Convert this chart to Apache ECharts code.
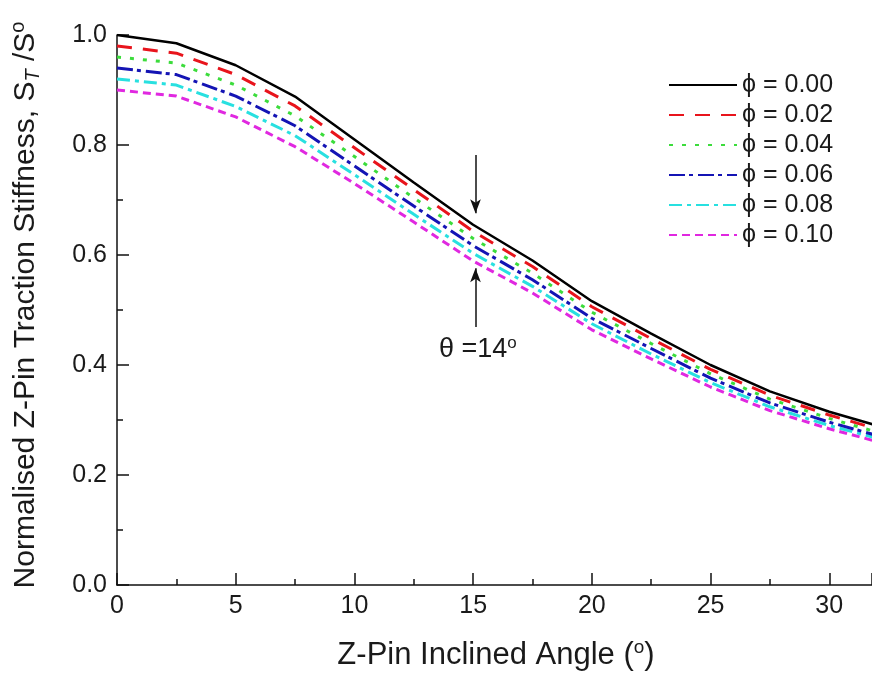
<!DOCTYPE html>
<html>
<head>
<meta charset="utf-8">
<script src="https://cdn.jsdelivr.net/npm/echarts@6/dist/echarts.min.js"></script>
<style>
html,body{margin:0;padding:0;background:#fff;}
#chart{width:872px;height:673px;}
</style>
</head>
<body>
<div id="chart"></div>
<script>
// ---- data ----
const angles = [0, 2.5, 5, 7.5, 10, 12.5, 15, 17.5, 20, 22.5, 25, 27.5, 30, 32];
const seriesNames = ['\u03d5 = 0.00', '\u03d5 = 0.02', '\u03d5 = 0.04', '\u03d5 = 0.06', '\u03d5 = 0.08', '\u03d5 = 0.10'];
const phi000 = [1.000, 0.985, 0.945, 0.888, 0.810, 0.732, 0.655, 0.590, 0.516, 0.457, 0.400, 0.352, 0.315, 0.290];
const phi002 = [0.980, 0.967, 0.928, 0.871, 0.795, 0.719, 0.643, 0.579, 0.506, 0.448, 0.392, 0.345, 0.309, 0.284];
const phi004 = [0.960, 0.949, 0.909, 0.853, 0.779, 0.704, 0.630, 0.567, 0.496, 0.439, 0.384, 0.338, 0.303, 0.278];
const phi006 = [0.940, 0.928, 0.889, 0.835, 0.762, 0.689, 0.617, 0.555, 0.485, 0.430, 0.376, 0.331, 0.296, 0.272];
const phi008 = [0.920, 0.909, 0.870, 0.817, 0.746, 0.674, 0.603, 0.543, 0.475, 0.420, 0.368, 0.324, 0.290, 0.267];
const phi010 = [0.900, 0.889, 0.851, 0.797, 0.730, 0.660, 0.589, 0.531, 0.464, 0.411, 0.360, 0.317, 0.284, 0.261];
const yTicks = [0, 0.2, 0.4, 0.6, 0.8, 1.0];
const xTicks = [0, 5, 10, 15, 20, 25, 30];
// annotation (theta = 14 deg arrows), in data units
const arrowX = 15.1;
const upperArrow = [0.782, 0.676];
const lowerArrow = [0.469, 0.576];

// ---- styles ----
const FONT = "'Liberation Sans', Arial, sans-serif";
const colors = ['#000000', '#e8141c', '#3cdc3c', '#1414b4', '#28e0e0', '#e028e0'];
const dashes = ['solid', [15, 11], [4, 9], [16, 4, 4, 5], [13, 5, 4, 5], [8, 5]];
const widths = [2.5, 3, 3, 3, 3, 3];
const allValues = [phi000, phi002, phi004, phi006, phi008, phi010];

const series = allValues.map((vals, i) => {
  const s = {
    name: seriesNames[i],
    type: 'line',
    data: angles.map((a, k) => [a, vals[k]]),
    symbol: 'none',
    clip: true,
    z: 10 - i,
    lineStyle: { color: colors[i], width: widths[i], type: dashes[i] },
    itemStyle: { color: colors[i] }
  };
  if (i === 0) {
    s.markLine = {
      silent: true,
      symbol: ['none', 'arrow'],
      symbolSize: [8, 14],
      label: { show: false },
      lineStyle: { color: '#111', width: 1.5, type: 'solid' },
      data: [
        [{ coord: [arrowX, upperArrow[0]] }, { coord: [arrowX, upperArrow[1]] }],
        [{ coord: [arrowX, lowerArrow[0]] }, { coord: [arrowX, lowerArrow[1]] }]
      ]
    };
  }
  return s;
});

const chart = echarts.init(document.getElementById('chart'), null, { renderer: 'canvas' });
chart.setOption({
  animation: false,
  backgroundColor: '#ffffff',
  grid: { left: 117, right: 0, top: 35, bottom: 88, containLabel: false },
  legend: {
    left: 668, top: 72, orient: 'vertical', padding: 0,
    itemWidth: 68, itemHeight: 14, itemGap: 4,
    itemStyle: { opacity: 0, borderWidth: 0 },
    lineStyle: { opacity: 1 },
    textStyle: { fontFamily: FONT, fontSize: 25, color: '#1a1a1a', lineHeight: 26 },
    data: seriesNames
  },
  xAxis: {
    type: 'value', min: 0, max: 31.8, interval: 5,
    axisLine: { lineStyle: { color: '#111', width: 1.5 } },
    axisTick: { inside: true, length: 12, lineStyle: { color: '#111', width: 1.5 } },
    minorTick: { show: true, splitNumber: 2, length: 6, lineStyle: { color: '#111', width: 1.5 } },
    splitLine: { show: false },
    axisLabel: { fontFamily: FONT, fontSize: 25, color: '#1a1a1a', margin: 9, showMaxLabel: false,
      formatter: v => (xTicks.indexOf(v) >= 0 ? String(v) : '') }
  },
  yAxis: {
    type: 'value', min: 0, max: 1.0, interval: 0.2,
    axisLine: { show: true, lineStyle: { color: '#111', width: 1.5 } },
    axisTick: { show: true, inside: true, length: 12, lineStyle: { color: '#111', width: 1.5 } },
    minorTick: { show: true, splitNumber: 2, length: 6, lineStyle: { color: '#111', width: 1.5 } },
    splitLine: { show: false },
    axisLabel: { fontFamily: FONT, fontSize: 25, color: '#1a1a1a', margin: 10,
      formatter: v => { const t = yTicks.find(y => Math.abs(y - v) < 1e-6); return t === undefined ? '' : t.toFixed(1); } }
  },
  graphic: [
    {
      type: 'text', x: 496, y: 655,
      style: {
        text: '{a|Z-Pin Inclined Angle (}{s|o}{a|)}',
        textAlign: 'center', textVerticalAlign: 'middle',
        fill: '#1a1a1a', font: '31px ' + FONT,
        rich: {
          a: { fontSize: 31, fontFamily: FONT, lineHeight: 34, fill: '#1a1a1a', verticalAlign: 'middle' },
          s: { fontSize: 19, fontFamily: FONT, lineHeight: 19, fill: '#1a1a1a', verticalAlign: 'top' }
        }
      }
    },
    {
      type: 'text', x: 26, y: 305, rotation: Math.PI / 2,
      style: {
        text: '{a|Normalised Z-Pin Traction Stiffness, S}{t|T}{a| /S}{s|o}',
        textAlign: 'center', textVerticalAlign: 'middle',
        fill: '#1a1a1a', font: '30px ' + FONT,
        rich: {
          a: { fontSize: 30, fontFamily: FONT, lineHeight: 35, fill: '#1a1a1a', verticalAlign: 'middle' },
          t: { fontSize: 20, fontFamily: FONT, fontStyle: 'italic', lineHeight: 20, fill: '#1a1a1a', verticalAlign: 'bottom' },
          s: { fontSize: 20, fontFamily: FONT, lineHeight: 20, fill: '#1a1a1a', verticalAlign: 'top' }
        }
      }
    },
    {
      type: 'text', x: 439, y: 350,
      style: {
        text: '{a|\u03b8 =14}{s|o}',
        textAlign: 'left', textVerticalAlign: 'middle',
        fill: '#1a1a1a', font: '27px ' + FONT,
        rich: {
          a: { fontSize: 27, fontFamily: FONT, lineHeight: 30, fill: '#1a1a1a', verticalAlign: 'middle' },
          s: { fontSize: 17, fontFamily: FONT, lineHeight: 17, fill: '#1a1a1a', verticalAlign: 'top' }
        }
      }
    }
  ],
  series: series
});
</script>
</body>
</html>
